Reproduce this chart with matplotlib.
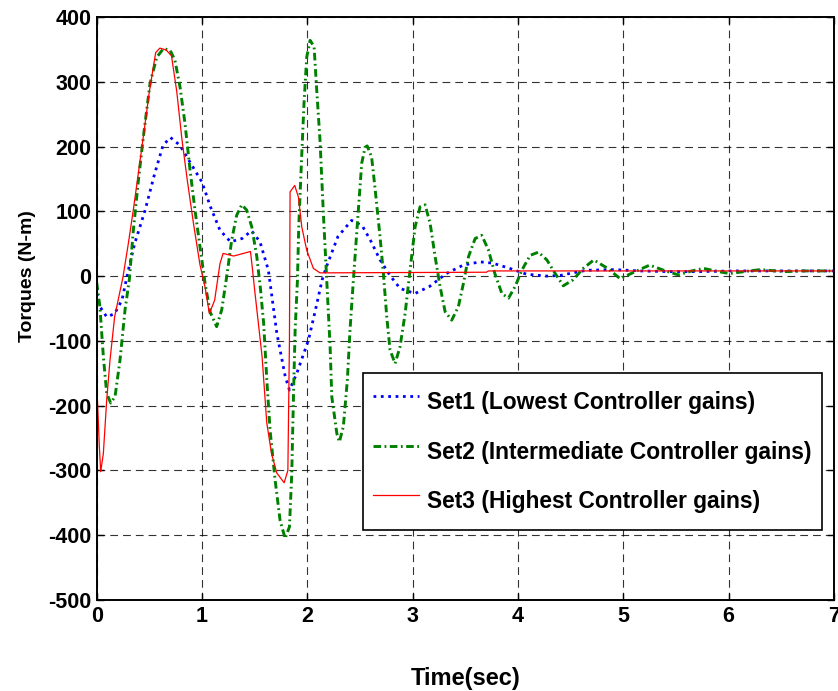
import matplotlib
matplotlib.use("Agg")
import matplotlib.pyplot as plt

plt.rcParams['font.family'] = ['Liberation Sans', 'DejaVu Sans']
plt.rcParams['font.weight'] = 'bold'
plt.rcParams['axes.unicode_minus'] = False

# Set1 - lowest controller gains
t_set1 = [0.0, 0.03, 0.095, 0.17, 0.24, 0.30, 0.36, 0.46, 0.55, 0.63, 0.70, 0.79,
          0.90, 1.0, 1.08, 1.17, 1.27, 1.38, 1.47, 1.55, 1.63, 1.71, 1.79, 1.83,
          1.90, 2.01, 2.08, 2.14, 2.18, 2.29, 2.42, 2.52, 2.60, 2.69, 2.785, 2.88,
          3.02, 3.16, 3.32, 3.48, 3.64, 3.76, 3.92, 4.08, 4.27, 4.40, 4.52, 4.65,
          4.91, 5.16, 5.41, 5.73, 6.05, 6.5, 7.0]
y_set1 = [-27, -47, -63, -58, -37, 9, 50, 102, 158, 202, 214, 202,
          172, 145, 107, 71, 53, 58, 70, 53, 9, -88, -155, -176,
          -150, -99, -50, -6, 14, 61, 86, 78, 55, 25, 1, -19,
          -27, -16, 4, 17, 22, 20, 12, 3, 0, 1, 5, 9,
          10, 8, 7, 7, 8, 8, 8]

# Set2 - intermediate controller gains
t_set2 = [0.0, 0.03, 0.063, 0.095, 0.133, 0.174, 0.221, 0.269, 0.31, 0.348, 0.396,
          0.443, 0.506, 0.57, 0.633, 0.696, 0.743, 0.791, 0.838, 0.886, 0.933,
          0.981, 1.029, 1.076, 1.139, 1.187, 1.234, 1.282, 1.329, 1.377, 1.424,
          1.472, 1.52, 1.555, 1.585, 1.615, 1.646, 1.694, 1.741, 1.789, 1.83,
          1.852, 1.868, 1.884, 1.906, 1.918, 1.946, 1.968, 1.994, 2.026, 2.064,
          2.089, 2.12, 2.152, 2.184, 2.216, 2.232, 2.28, 2.304, 2.342, 2.38,
          2.405, 2.437, 2.475, 2.516, 2.548, 2.568, 2.61, 2.643, 2.69, 2.722,
          2.754, 2.785, 2.833, 2.88, 2.928, 2.975, 3.023, 3.07, 3.118, 3.166,
          3.213, 3.26, 3.308, 3.371, 3.434, 3.482, 3.53, 3.593, 3.656, 3.72,
          3.78, 3.847, 3.91, 3.973, 4.036, 4.115, 4.194, 4.274, 4.353, 4.43,
          4.52, 4.62, 4.72, 4.85, 4.97, 5.1, 5.25, 5.4, 5.52, 5.65, 5.76, 5.9,
          6.01, 6.15, 6.30, 6.45, 6.55, 6.7, 7.0]
y_set2 = [-10, -47, -124, -181, -196, -186, -130, -52, -5, 71, 148,
          215, 297, 338, 351, 349, 333, 292, 236, 164, 102,
          45, -11, -55, -78, -52, -1, 56, 94, 110, 102,
          76, 30, -20, -73, -160, -238, -315, -377, -405, -387,
          -305, -186, -83, -6, 76, 184, 266, 338, 364, 354,
          287, 210, 97, -6, -109, -186, -243, -256, -232, -160,
          -83, -6, 81, 174, 199, 201, 184, 135, 61, 4,
          -63, -114, -135, -109, -58, 9, 76, 107, 110, 81,
          30, -16, -55, -68, -47, -11, 30, 58, 63, 40,
          4, -27, -34, -16, 9, 32, 37, 25, 4, -15,
          -6, 12, 25, 12, -4, 6, 17, 8, 2, 8, 12, 7,
          4, 7, 10, 8, 7, 8, 8]

# Set3 - highest controller gains
t_set3 = [0.0, 0.025, 0.038, 0.063, 0.095, 0.126, 0.17, 0.25, 0.30, 0.35, 0.43,
          0.50, 0.56, 0.60, 0.66, 0.71, 0.76, 0.81, 0.86, 0.92, 0.98, 1.03,
          1.07, 1.12, 1.17, 1.20, 1.30, 1.46, 1.48, 1.50, 1.535, 1.57, 1.59,
          1.615, 1.66, 1.71, 1.78, 1.815, 1.83, 1.836, 1.88, 1.915, 1.947,
          1.994, 2.057, 2.12, 3.70, 3.72, 7.0]
y_set3 = [-163, -263, -302, -274, -191, -130, -63, -1, 50, 105, 200,
          285, 345, 352, 349, 340, 285, 210, 148, 80, 18, -18,
          -58, -37, 19, 35, 31, 38, 9, -22, -73, -124, -170,
          -227, -274, -304, -319, -300, -100, 130, 140, 122, 76,
          40, 12, 5, 6, 8, 8]

labels = ['Set1 (Lowest Controller gains)',
          'Set2 (Intermediate Controller gains)',
          'Set3 (Highest Controller gains)']

fig = plt.figure(figsize=(8.38, 6.91), dpi=100)
ax = fig.add_axes([0.1154, 0.1317, 0.8798, 0.8437])

ax.plot(t_set1, y_set1, color='b', linestyle=':', linewidth=2.0, label=labels[0])
ax.plot(t_set2, y_set2, color=(0, 0.5, 0), linestyle=(0, (2.6, 1.2, 0.6, 1.2)),
        linewidth=2.1, label=labels[1])
ax.plot(t_set3, y_set3, color='r', linestyle='-', linewidth=0.9, label=labels[2])

ax.set_xlim(0, 7)
ax.set_ylim(-500, 400)
ax.set_xticks(range(0, 8))
ax.set_yticks(range(-500, 401, 100))
ax.grid(True, color='k', linestyle=(0, (7, 4.5)), linewidth=0.8, alpha=0.8)
ax.tick_params(direction='in', top=True, right=True, length=5, width=1,
               labelsize=15.5, pad=4)
for lab in ax.get_xticklabels() + ax.get_yticklabels():
    lab.set_fontweight('bold')
for sp in ax.spines.values():
    sp.set_linewidth(1.4)

ax.set_xlabel('Time(sec)', fontsize=17, fontweight='bold', labelpad=29)
ax.set_ylabel('Torques (N-m)', fontsize=14, fontweight='bold')
ax.yaxis.set_label_coords(-0.083, 0.556)

leg = ax.legend(loc='upper right', bbox_to_anchor=(0.9837, 0.389), fontsize=16.4,
                frameon=True, fancybox=False, edgecolor='k', framealpha=1,
                handlelength=2.06, handletextpad=0.35, labelspacing=0.5,
                handleheight=2.19, borderpad=0.44, borderaxespad=0)
leg.get_frame().set_linewidth(1.2)
for txt in leg.get_texts():
    txt.set_fontweight('bold')

fig.savefig('out.png', dpi=100)
